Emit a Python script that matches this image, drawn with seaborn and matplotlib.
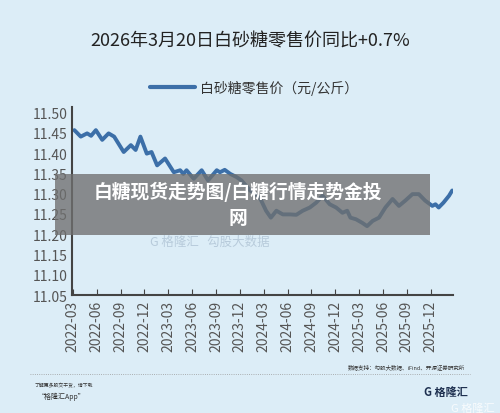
import matplotlib
matplotlib.use("Agg")
import matplotlib.pyplot as plt
import seaborn as sns
import pandas as pd
from matplotlib.patches import Rectangle

sns.set_style("ticks")
plt.rcParams['font.family'] = ['Noto Sans CJK SC', 'DejaVu Sans']

months = [0.2,1.0,1.8,2.3,2.9,3.7,4.5,5.2,6.4,7.3,7.9,8.5,9.3,9.9,10.6,11.6,12.7,13.5,13.9,14.3,
          15.2,16.2,17.0,18.1,18.5,19.1,19.8,20.6,21.2,22.3,23.5,24.3,24.9,25.6,26.4,27.3,28.1,28.9,
          29.8,30.6,31.4,32.3,33.1,33.9,34.5,34.9,35.6,36.4,37.0,37.7,38.5,39.3,40.2,41.0,41.8,42.7,
          43.5,44.3,45.2,45.6,46.0,46.6,47.3,47.7]
prices = [11.457,11.441,11.449,11.443,11.457,11.433,11.449,11.441,11.403,11.420,11.408,11.441,11.399,
          11.403,11.370,11.387,11.353,11.358,11.349,11.358,11.337,11.358,11.333,11.358,11.353,11.359,
          11.349,11.341,11.333,11.308,11.291,11.258,11.241,11.258,11.249,11.249,11.248,11.258,11.266,
          11.278,11.295,11.274,11.266,11.253,11.258,11.241,11.237,11.228,11.220,11.233,11.241,11.266,
          11.287,11.270,11.283,11.299,11.299,11.283,11.270,11.274,11.266,11.278,11.295,11.308]
tick_labels = ["2022-03","2022-06","2022-09","2022-12","2023-03","2023-06","2023-09","2023-12",
               "2024-03","2024-06","2024-09","2024-12","2025-03","2025-06","2025-09","2025-12"]
yticks = [11.05,11.10,11.15,11.20,11.25,11.30,11.35,11.40,11.45,11.50]

bg = "#dcedf7"
fig = plt.figure(figsize=(5, 4.14), dpi=100, facecolor=bg)
ax = fig.add_axes([0.144, 0.285, 0.762, 0.455])
ax.set_facecolor(bg)
df = pd.DataFrame({"m": months, "p": prices})
sns.lineplot(data=df, x="m", y="p", ax=ax, color="#3c6fa8", linewidth=2.8)
ax.set_xlim(-0.1, 47.8)
ax.set_ylim(11.05, 11.515)
ax.set_xticks(range(0, 46, 3))
ax.set_xticklabels(tick_labels, rotation=90, fontsize=10, color="#555555")
ax.set_yticks(yticks)
ax.set_yticklabels([f"{v:.2f}" for v in yticks], fontsize=10, color="#555555")
ax.set_xlabel(""); ax.set_ylabel("")
for s in ["top", "right"]:
    ax.spines[s].set_visible(False)
for s in ["left", "bottom"]:
    ax.spines[s].set_color("#444444"); ax.spines[s].set_linewidth(1.5)
ax.tick_params(axis="x", direction="in", length=4, color="#444444")
ax.tick_params(axis="y", length=0)

fig.text(0.5, 0.90, "2026年3月20日白砂糖零售价同比+0.7%", ha="center", va="center", fontsize=13, color="#222222")
fig.add_artist(plt.Line2D([0.30, 0.39], [0.787, 0.787], color="#3c6fa8", lw=3))
fig.text(0.40, 0.787, "白砂糖零售价（元/公斤）", ha="left", va="center", fontsize=10, color="#333333")

fig.text(0.42, 0.415, "G 格隆汇   勾股大数据", ha="center", va="center", fontsize=9, color="#9fb4c8", alpha=0.6)

fig.add_artist(Rectangle((0.11, 0.43), 0.75, 0.148, transform=fig.transFigure, facecolor="#6f6f6f", alpha=0.78, edgecolor="none"))
fig.text(0.475, 0.536, "白糖现货走势图/白糖行情走势金投", ha="center", va="center", fontsize=13.5, color="white", fontweight="bold")
fig.text(0.475, 0.473, "网", ha="center", va="center", fontsize=13.5, color="white", fontweight="bold")

fig.text(0.93, 0.112, "数据支持：勾股大数据、iFind、开源证券研究所", ha="right", va="center", fontsize=4, color="#333333")
fig.add_artist(plt.Line2D([0.06, 0.94], [0.093, 0.093], color="#999999", lw=0.6, ls=":"))
fig.text(0.07, 0.068, "了解更多股交干货，请下载", ha="left", va="center", fontsize=3.5, color="#333333", style="italic")
fig.text(0.075, 0.042, "“格隆汇App”", ha="left", va="center", fontsize=5, color="#333333", style="italic")
fig.text(0.935, 0.053, "G 格隆汇", ha="right", va="center", fontsize=8, color="#1e3050", fontweight="bold")
fig.text(0.99, 0.012, "G 格隆汇", ha="right", va="center", fontsize=8, color="white", alpha=0.8)

fig.savefig("out.png", dpi=100, facecolor=bg)
